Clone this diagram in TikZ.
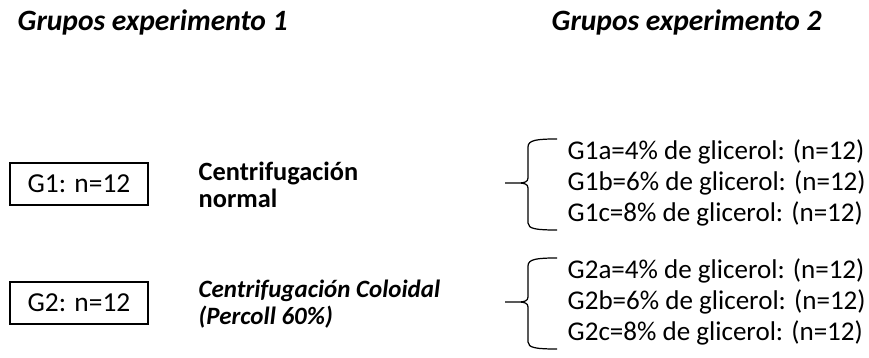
\documentclass[tikz,border=0pt]{standalone}
\usepackage{fontspec}
\setmainfont{Carlito}
\usepackage{tikz}
\usetikzlibrary{calc,positioning}
\tikzstyle{caja} = [draw, rectangle, line width=0.6pt,
    minimum width=1.38cm, minimum height=0.42cm,
    font=\fontsize{7.8}{8.8}\selectfont]
\tikzstyle{titulo} = [anchor=west, inner sep=0,
    font=\fontsize{8.4}{9}\selectfont\bfseries\itshape]
\tikzstyle{metodo} = [anchor=west, inner sep=0, align=left,
    font=\fontsize{7.5}{7.6}\selectfont\bfseries]
\tikzstyle{lista} = [anchor=west, inner sep=0, align=left,
    font=\fontsize{7.7}{8.8}\selectfont]
\tikzstyle{llave} = [line width=0.35pt]

\begin{document}
\begin{tikzpicture}
        \useasboundingbox (0, 0) rectangle (8.69, 3.58);

        \node[titulo, name=tit1] at (0.17, 3.36) {Grupos experimento 1};
        \node[titulo, name=tit2] at (5.51, 3.36) {Grupos experimento 2};

        \node[caja, name=g1] at (0.79, 1.74) {G1: n=12};
        \node[caja, name=g2] at (0.79, 0.55) {G2: n=12};

        \node[metodo, name=normal] at (1.98, 1.73) {Centrifugación\\normal};
        \node[metodo, name=coloidal, font=\fontsize{7.1}{7.6}\selectfont\bfseries\itshape]
            at (1.98, 0.54) {Centrifugación Coloidal\\(Percoll 60\%)};

        \node[lista, name=grupos1] at (5.67, 1.75)
            {G1a=4\% de glicerol: (n=12)\\G1b=6\% de glicerol: (n=12)\\G1c=8\% de glicerol: (n=12)};
        \node[lista, name=grupos2] at (5.67, 0.56)
            {G2a=4\% de glicerol: (n=12)\\G2b=6\% de glicerol: (n=12)\\G2c=8\% de glicerol: (n=12)};

        % llaves
        \foreach \g in {grupos1, grupos2} {
            \begin{scope}[shift={(\g.west)}]
                \draw[llave] (-0.10, 0.44) .. controls (-0.30, 0.44) and (-0.39, 0.43) .. (-0.39, 0.36)
                    -- (-0.39, 0.05) .. controls (-0.39, 0.01) and (-0.43, 0) .. (-0.48, 0)
                    -- (-0.62, 0) -- (-0.48, 0)
                    .. controls (-0.43, 0) and (-0.39, -0.01) .. (-0.39, -0.05)
                    -- (-0.39, -0.40) .. controls (-0.39, -0.46) and (-0.30, -0.47) .. (-0.10, -0.47);
            \end{scope}
        }
    \end{tikzpicture}
\end{document}
